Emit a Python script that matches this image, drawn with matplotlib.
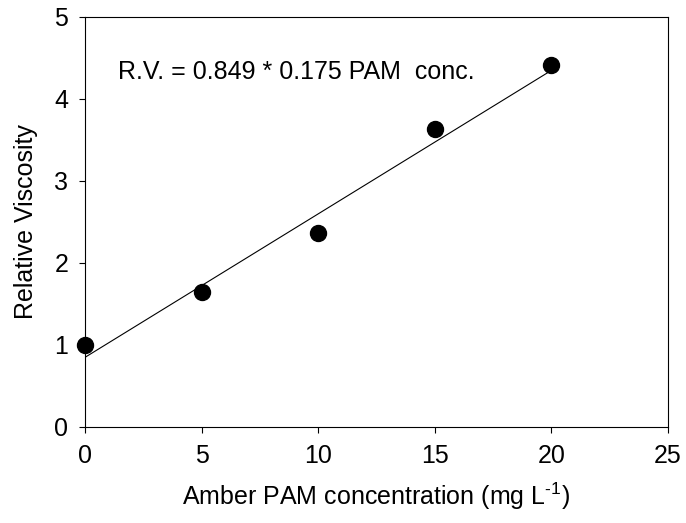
import matplotlib
matplotlib.use("Agg")
import matplotlib.pyplot as plt
import numpy as np

plt.rcParams['font.family'] = ['Liberation Sans', 'DejaVu Sans']
plt.rcParams['mathtext.fontset'] = 'custom'
plt.rcParams['mathtext.rm'] = 'Liberation Sans'

# data
conc = [0, 5, 10, 15, 20]
viscosity = [1.00, 1.65, 2.36, 3.64, 4.41]
intercept = 0.849
slope = 0.175

fig = plt.figure(figsize=(6.86, 5.23), dpi=100)
ax = fig.add_axes([0.1239, 0.1836, 0.8499, 0.7839])

xfit = np.array([min(conc), max(conc)])
ax.plot(xfit, intercept + slope * xfit, color='black', lw=0.8)
ax.plot(conc, viscosity, 'o', color='black', ms=11.5, clip_on=False, zorder=3)

ax.text(1.4, 4.24, 'R.V. = 0.849 * 0.175 PAM  conc.', fontsize=18, va='baseline')

ax.set_xlim(0, 25)
ax.set_ylim(0, 5)
ax.set_xticks([0, 5, 10, 15, 20, 25])
ax.set_yticks([0, 1, 2, 3, 4, 5])
ax.tick_params(direction='out', length=4, width=0.8, labelsize=18, pad=8)
for s in ax.spines.values():
    s.set_linewidth(0.8)

ax.set_xlabel('Amber PAM concentration (mg L$^{\\text{-1}}$)', fontsize=18, labelpad=9)
ax.set_ylabel('Relative Viscosity', fontsize=18, labelpad=12)

fig.savefig('out.png', dpi=100)
